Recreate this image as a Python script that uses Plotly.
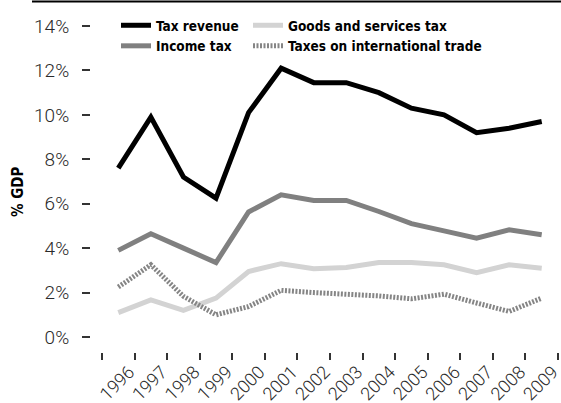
import plotly.graph_objects as go

years = ["1996", "1997", "1998", "1999", "2000", "2001", "2002", "2003",
         "2004", "2005", "2006", "2007", "2008", "2009"]
tax_revenue = [7.6, 9.9, 7.2, 6.25, 10.1, 12.1, 11.45, 11.45, 11.0, 10.3, 10.0, 9.2, 9.4, 9.7]
income_tax = [3.9, 4.65, 4.0, 3.35, 5.63, 6.4, 6.15, 6.15, 5.65, 5.1, 4.78, 4.45, 4.83, 4.6]
goods_services = [1.1, 1.67, 1.2, 1.75, 2.95, 3.3, 3.07, 3.13, 3.35, 3.35, 3.25, 2.9, 3.25, 3.1]
intl_trade = [2.25, 3.25, 1.83, 1.0, 1.37, 2.1, 2.0, 1.95, 1.85, 1.72, 1.93, 1.53, 1.15, 1.75]
y_ticks = [0, 2, 4, 6, 8, 10, 12, 14]
y_tick_labels = ["0%", "2%", "4%", "6%", "8%", "10%", "12%", "14%"]

W, H = 561, 403
ML, MR, MT, MB = 90, 3, 26, 51
plot_w = W - ML - MR
plot_h = H - MT - MB

def px_x(px):
    return (px - ML) / plot_w

def px_y(py):
    return (H - MB - py) / plot_h

fig = go.Figure()
fig.add_trace(go.Scatter(x=years, y=tax_revenue, name="Tax revenue", mode="lines",
                         line=dict(color="#000000", width=5), legend="legend"))
fig.add_trace(go.Scatter(x=years, y=income_tax, name="Income tax", mode="lines",
                         line=dict(color="#808080", width=5), legend="legend"))
fig.add_trace(go.Scatter(x=years, y=goods_services, name="Goods and services tax", mode="lines",
                         line=dict(color="#d3d3d3", width=5), legend="legend2"))
fig.add_trace(go.Scatter(x=years, y=intl_trade, name="Taxes on international trade", mode="lines",
                         line=dict(color="#858585", width=5, dash="2px,1.5px"), legend="legend2"))

tick_font = dict(family="Roboto, Liberation Sans, sans-serif", size=19, color="#2a2a2a", weight=300)
xtick_font = dict(family="Roboto, Liberation Sans, sans-serif", size=18, color="#2a2a2a", weight=300)
cond = "DejaVu Sans Condensed, Liberation Sans Narrow, Arial Narrow, sans-serif"
legend_font = dict(family=cond, size=13.5, color="#000000", weight="bold")

fig.update_layout(
    width=W, height=H,
    margin=dict(l=ML, r=MR, t=MT, b=MB, autoexpand=False),
    paper_bgcolor="white", plot_bgcolor="white",
    xaxis=dict(
        type="category", domain=[px_x(102), 1], range=[-0.5, 13.5],
        anchor="free", position=0, automargin=False,
        showgrid=False, zeroline=False, showline=False,
        ticks="outside", ticklen=7, tickwidth=1.5, tickcolor="#333333",
        tickson="boundaries", tickangle=-45, tickfont=xtick_font,
        ticklabelshift=11, ticklabelstandoff=5,
    ),
    yaxis=dict(
        domain=[px_y(337), px_y(26)], range=[0, 14],
        anchor="free", position=0, automargin=False,
        tickvals=y_ticks, ticktext=y_tick_labels,
        showgrid=False, zeroline=False, showline=False,
        ticks="outside", ticklen=8, tickwidth=1.5, tickcolor="#333333",
        ticklabelstandoff=9, tickfont=tick_font,
    ),
    legend=dict(x=px_x(116), y=px_y(10), xanchor="left", yanchor="top",
                font=legend_font, bgcolor="rgba(0,0,0,0)", tracegroupgap=0,
                itemwidth=30),
    legend2=dict(x=px_x(248), y=px_y(10), xanchor="left", yanchor="top",
                 font=legend_font, bgcolor="rgba(0,0,0,0)", tracegroupgap=0,
                 itemwidth=30),
    showlegend=True,
    shapes=[dict(type="line", xref="paper", yref="paper",
                 x0=px_x(32), x1=px_x(561), y0=px_y(1.5), y1=px_y(1.5),
                 line=dict(color="#000000", width=2))],
    annotations=[dict(text="% GDP", xref="paper", yref="paper",
                      x=px_x(18), y=px_y(192), textangle=-90, showarrow=False,
                      xanchor="center", yanchor="middle",
                      font=dict(family=cond, size=15, color="#000000", weight="bold"))],
)

fig.write_html("out.html", config={"displayModeBar": False},
               post_script="document.body.style.margin='0';document.body.style.padding='0';")
